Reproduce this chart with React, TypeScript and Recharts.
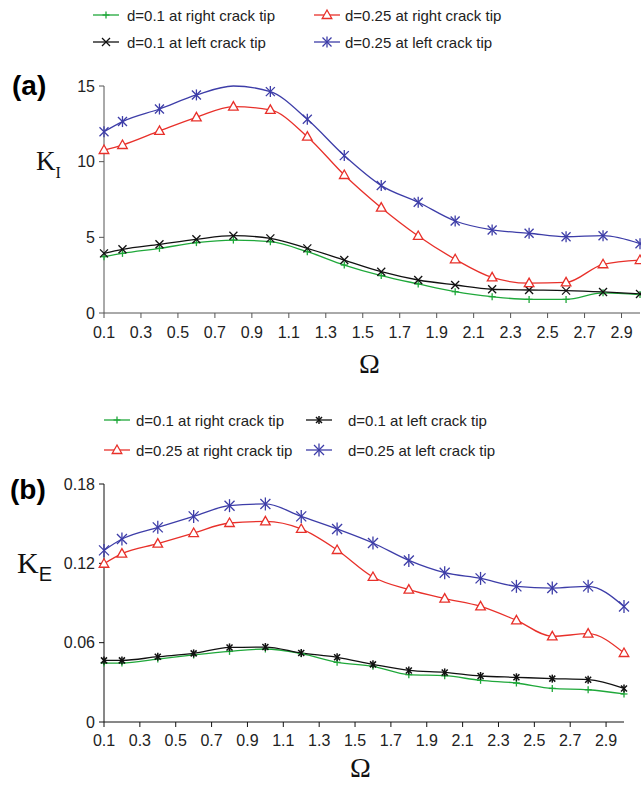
import React from "react";
import { LineChart, Line, XAxis, YAxis } from "recharts";

// x positions (Omega) of the computed points
const omega = [0.1, 0.2, 0.4, 0.6, 0.8, 1.0, 1.2, 1.4, 1.6, 1.8, 2.0, 2.2, 2.4, 2.6, 2.8, 3.0];
const xTicks = [0.1, 0.3, 0.5, 0.7, 0.9, 1.1, 1.3, 1.5, 1.7, 1.9, 2.1, 2.3, 2.5, 2.7, 2.9];

// (a) K_I
const kiRight01 = [3.72, 3.94, 4.27, 4.65, 4.82, 4.71, 4.05, 3.17, 2.47, 1.92, 1.41, 1.08, 0.9, 0.9, 1.33, 1.22];
const kiLeft01 = [3.94, 4.21, 4.54, 4.87, 5.11, 4.93, 4.27, 3.5, 2.73, 2.18, 1.85, 1.57, 1.52, 1.48, 1.39, 1.26];
const kiRight025 = [10.77, 11.1, 12.03, 12.93, 13.64, 13.42, 11.65, 9.12, 6.96, 5.09, 3.55, 2.35, 1.97, 2.02, 3.22, 3.5];
const kiLeft025 = [11.98, 12.65, 13.48, 14.41, 15.0, 14.63, 12.8, 10.4, 8.42, 7.32, 6.08, 5.49, 5.27, 5.04, 5.11, 4.58];
const kiTicks = [0, 5, 10, 15];

// (b) K_E
const keRight01 = [0.0446, 0.0446, 0.0476, 0.0507, 0.0534, 0.0552, 0.0517, 0.0451, 0.0421, 0.0358, 0.035, 0.0315, 0.0295, 0.0254, 0.0244, 0.0212];
const keLeft01 = [0.0466, 0.0466, 0.0494, 0.0519, 0.0564, 0.0567, 0.0522, 0.0489, 0.0436, 0.039, 0.0375, 0.0348, 0.0338, 0.0328, 0.032, 0.0254];
const keRight025 = [0.1197, 0.1273, 0.1349, 0.1429, 0.1505, 0.1517, 0.146, 0.1301, 0.1097, 0.1001, 0.0933, 0.0874, 0.0769, 0.0648, 0.0668, 0.0522];
const keLeft025 = [0.1298, 0.1384, 0.1472, 0.1555, 0.1636, 0.1649, 0.1555, 0.146, 0.1354, 0.1222, 0.1129, 0.1086, 0.1026, 0.1013, 0.1026, 0.0874];
const keTicks = [0, 0.06, 0.12, 0.18];

const GREEN = "#1fa83a";
const BLACK = "#111111";
const RED = "#e8302a";
const BLUE = "#3d3da8";
const SANS = "'Liberation Sans', Arial, sans-serif";
const SERIF = "'Liberation Serif', 'Times New Roman', serif";

const dataA = omega.map((o, i) => ({
  omega: o,
  r01: kiRight01[i],
  l01: kiLeft01[i],
  r025: kiRight025[i],
  l025: kiLeft025[i],
}));

const dataB = omega.map((o, i) => ({
  omega: o,
  r01: keRight01[i],
  l01: keLeft01[i],
  r025: keRight025[i],
  l025: keLeft025[i],
}));

type Mark = "plus" | "cross" | "tri" | "star" | "smallstar" | "bigstar";

const marker = (kind: Mark, cx: number, cy: number, color: string, key?: any) => {
  switch (kind) {
    case "plus":
      return (
        <g key={key} stroke={color} strokeWidth={1.3}>
          <line x1={cx - 3.5} y1={cy} x2={cx + 3.5} y2={cy} />
          <line x1={cx} y1={cy - 3.5} x2={cx} y2={cy + 3.5} />
        </g>
      );
    case "cross":
      return (
        <g key={key} stroke={color} strokeWidth={1.3}>
          <line x1={cx - 4} y1={cy - 4} x2={cx + 4} y2={cy + 4} />
          <line x1={cx - 4} y1={cy + 4} x2={cx + 4} y2={cy - 4} />
        </g>
      );
    case "tri":
      return (
        <polygon
          key={key}
          points={`${cx},${cy - 5} ${cx - 4.8},${cy + 3.5} ${cx + 4.8},${cy + 3.5}`}
          fill="#fff"
          stroke={color}
          strokeWidth={1.3}
        />
      );
    case "smallstar":
      return (
        <g key={key} stroke={color} strokeWidth={1.5}>
          <line x1={cx - 3} y1={cy - 3} x2={cx + 3} y2={cy + 3} />
          <line x1={cx - 3} y1={cy + 3} x2={cx + 3} y2={cy - 3} />
          <line x1={cx} y1={cy - 4} x2={cx} y2={cy + 4} />
        </g>
      );
    case "bigstar":
      return (
        <g key={key} stroke={color} strokeWidth={1.3}>
          <line x1={cx - 5} y1={cy - 5} x2={cx + 5} y2={cy + 5} />
          <line x1={cx - 5} y1={cy + 5} x2={cx + 5} y2={cy - 5} />
          <line x1={cx} y1={cy - 6.5} x2={cx} y2={cy + 6.5} />
        </g>
      );
    default:
      return (
        <g key={key} stroke={color} strokeWidth={1.3}>
          <line x1={cx - 4.5} y1={cy - 4.5} x2={cx + 4.5} y2={cy + 4.5} />
          <line x1={cx - 4.5} y1={cy + 4.5} x2={cx + 4.5} y2={cy - 4.5} />
          <line x1={cx} y1={cy - 5.5} x2={cx} y2={cy + 5.5} />
        </g>
      );
  }
};

const dotFn = (kind: Mark, color: string, skip: number[] = []) => (props: any) => {
  const { cx, cy, index } = props;
  if (cx == null || cy == null || skip.includes(index)) return <g key={`d-${index}`} />;
  return marker(kind, cx, cy, color, `d-${index}`);
};

const LegendItem = ({ x, y, kind, color, label, gap }: any) => (
  <div style={{ position: "absolute", left: x, top: y - 10, height: 20, display: "flex", alignItems: "center" }}>
    <svg width={28} height={20} style={{ marginRight: gap }}>
      <line x1={1} y1={10} x2={27} y2={10} stroke={color} strokeWidth={1.3} />
      {marker(kind, 14, 10, color)}
    </svg>
    <span style={{ fontFamily: SANS, fontSize: 15, color: "#222", whiteSpace: "nowrap" }}>{label}</span>
  </div>
);

const tickStyle = { fontSize: 16, fill: "#222", fontFamily: SANS };

export default function App() {
  return (
    <div style={{ position: "absolute", left: 0, top: 0, width: 641, height: 787, background: "#fff" }}>
      {/* panel (a) legend */}
      <LegendItem x={92} y={15} kind="plus" color={GREEN} label="d=0.1 at right crack tip" gap={7} />
      <LegendItem x={313} y={15} kind="tri" color={RED} label="d=0.25 at right crack tip" gap={4} />
      <LegendItem x={92} y={42} kind="cross" color={BLACK} label="d=0.1 at left crack tip" gap={7} />
      <LegendItem x={313} y={42} kind="star" color={BLUE} label="d=0.25 at left crack tip" gap={4} />

      <div style={{ position: "absolute", left: 0, top: 0 }}>
        <LineChart width={641} height={343} data={dataA} margin={{ top: 86, right: 1, left: 44, bottom: 0 }}>
          <XAxis
            type="number"
            dataKey="omega"
            domain={[0.1, 3.0]}
            ticks={xTicks}
            tickFormatter={(v: number) => v.toFixed(1)}
            height={30}
            tickSize={5}
            tickMargin={9}
            stroke="#555"
            tick={tickStyle}
            interval={0}
          />
          <YAxis
            type="number"
            domain={[0, 15]}
            ticks={kiTicks}
            width={60}
            tickSize={5}
            tickMargin={4}
            stroke="#555"
            tick={tickStyle}
            interval={0}
          />
          <Line type="monotone" dataKey="r01" stroke={GREEN} strokeWidth={1.3} dot={dotFn("plus", GREEN)} isAnimationActive={false} />
          <Line type="monotone" dataKey="l01" stroke={BLACK} strokeWidth={1.3} dot={dotFn("cross", BLACK)} isAnimationActive={false} />
          <Line type="monotone" dataKey="r025" stroke={RED} strokeWidth={1.3} dot={dotFn("tri", RED)} isAnimationActive={false} />
          <Line type="monotone" dataKey="l025" stroke={BLUE} strokeWidth={1.3} dot={dotFn("star", BLUE, [4])} isAnimationActive={false} />
        </LineChart>
      </div>

      <div style={{ position: "absolute", left: 12, top: 70, fontFamily: SANS, fontWeight: "bold", fontSize: 28 }}>(a)</div>
      <div style={{ position: "absolute", left: 36, top: 146, fontFamily: SERIF, fontSize: 27, color: "#111" }}>
        K<span style={{ fontSize: 16, position: "relative", top: 8 }}>I</span>
      </div>
      <div style={{ position: "absolute", left: 359, top: 348, fontFamily: SERIF, fontSize: 28, color: "#111" }}>Ω</div>

      {/* panel (b) legend */}
      <LegendItem x={103} y={420} kind="plus" color={GREEN} label="d=0.1 at right crack tip" gap={5} />
      <LegendItem x={305} y={420} kind="smallstar" color={BLACK} label="d=0.1 at left crack tip" gap={15} />
      <LegendItem x={103} y={450} kind="tri" color={RED} label="d=0.25 at right crack tip" gap={5} />
      <LegendItem x={305} y={450} kind="bigstar" color={BLUE} label="d=0.25 at left crack tip" gap={15} />

      <div style={{ position: "absolute", left: 0, top: 460 }}>
        <LineChart width={641} height={292} data={dataB} margin={{ top: 24, right: 17, left: 44, bottom: 0 }}>
          <XAxis
            type="number"
            dataKey="omega"
            domain={[0.1, 3.0]}
            ticks={xTicks}
            tickFormatter={(v: number) => v.toFixed(1)}
            height={30}
            tickSize={5}
            tickMargin={8}
            stroke="#111"
            tick={tickStyle}
            interval={0}
          />
          <YAxis
            type="number"
            domain={[0, 0.18]}
            ticks={keTicks}
            tickFormatter={(v: number) => (v === 0 ? "0" : v.toFixed(2))}
            width={60}
            tickSize={5}
            tickMargin={4}
            stroke="#111"
            tick={tickStyle}
            interval={0}
          />
          <Line type="monotone" dataKey="r01" stroke={GREEN} strokeWidth={1.3} dot={dotFn("plus", GREEN)} isAnimationActive={false} />
          <Line type="monotone" dataKey="l01" stroke={BLACK} strokeWidth={1.3} dot={dotFn("smallstar", BLACK)} isAnimationActive={false} />
          <Line type="monotone" dataKey="r025" stroke={RED} strokeWidth={1.3} dot={dotFn("tri", RED)} isAnimationActive={false} />
          <Line type="monotone" dataKey="l025" stroke={BLUE} strokeWidth={1.3} dot={dotFn("bigstar", BLUE)} isAnimationActive={false} />
        </LineChart>
      </div>

      <div style={{ position: "absolute", left: 10, top: 474, fontFamily: SANS, fontWeight: "bold", fontSize: 28 }}>(b)</div>
      <div style={{ position: "absolute", left: 17, top: 546, fontFamily: SERIF, fontSize: 30, color: "#111" }}>
        K<span style={{ fontFamily: SANS, fontSize: 20, position: "relative", top: 8 }}>E</span>
      </div>
      <div style={{ position: "absolute", left: 350, top: 752, fontFamily: SERIF, fontSize: 28, color: "#111" }}>Ω</div>
    </div>
  );
}
